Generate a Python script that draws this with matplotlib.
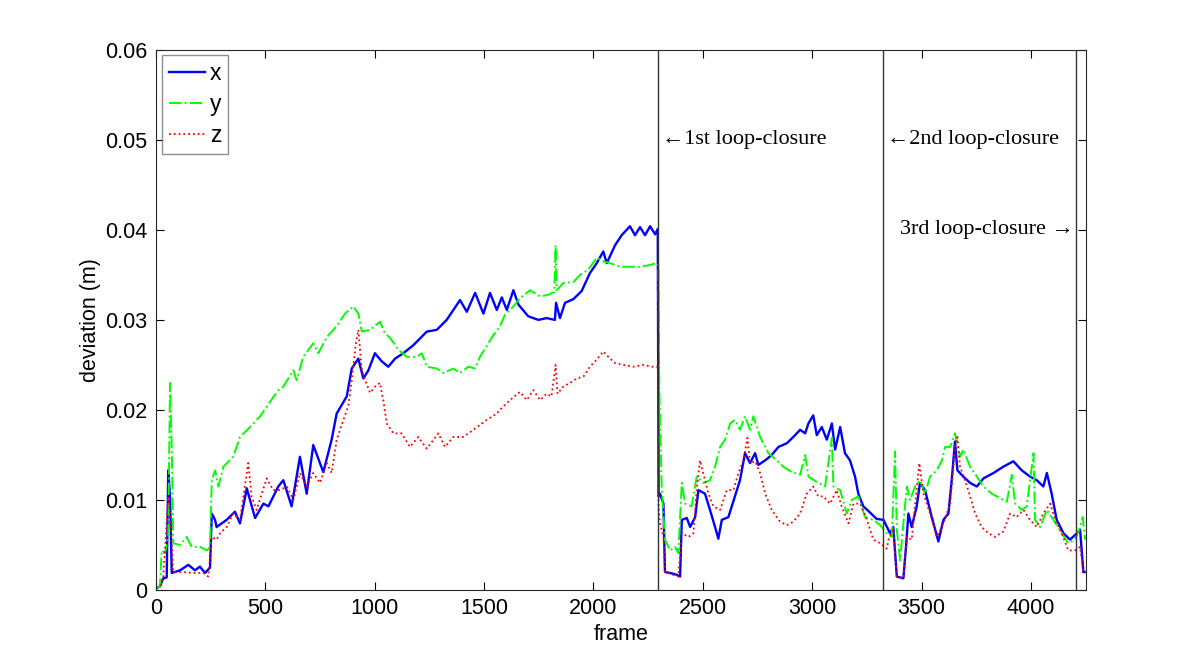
import matplotlib
matplotlib.use("Agg")
import matplotlib.pyplot as plt

# deviation per frame (frame, deviation in m)
x_points = [
    (0, .0002), (18, .0004), (33, .0013), (49, .0014), (56, .0133), (64, .0104), (72, .0019),
    (110, .0022), (148, .0028), (178, .0022), (201, .0026), (224, .0019), (247, .0025),
    (255, .0085), (270, .0078), (277, .0070), (323, .0078), (361, .0087), (384, .0074),
    (415, .0113), (453, .0080), (491, .0096), (514, .0093), (559, .0115), (582, .0122),
    (620, .0093), (658, .0148), (689, .0107), (719, .0161), (765, .0131), (803, .0167),
    (826, .0196), (872, .0215), (895, .0246), (925, .0257), (948, .0235), (971, .0244),
    (1001, .0263), (1032, .0254), (1062, .0248), (1093, .0257), (1131, .0263), (1177, .0272),
    (1238, .0287), (1284, .0289), (1329, .0300), (1390, .0322), (1421, .0309), (1459, .0330),
    (1497, .0307), (1527, .0330), (1558, .0311), (1581, .0325), (1604, .0311), (1634, .0333),
    (1657, .0317), (1702, .0304), (1748, .0300), (1786, .0302), (1824, .0300), (1829, .0319),
    (1847, .0302), (1870, .0319), (1908, .0323), (1946, .0332), (1984, .0352), (2015, .0363),
    (2045, .0376), (2061, .0363), (2099, .0383), (2129, .0394), (2167, .0404), (2190, .0394),
    (2213, .0403), (2236, .0394), (2259, .0404), (2282, .0395), (2294, .0401), (2298, .0104),
    (2304, .0107), (2320, .0096), (2327, .0020), (2350, .0019), (2381, .0017), (2396, .0015),
    (2404, .0078), (2427, .0080), (2442, .0070), (2465, .0081), (2480, .0111), (2510, .0107),
    (2533, .0089), (2556, .0070), (2571, .0057), (2587, .0078), (2617, .0081), (2647, .0104),
    (2670, .0122), (2693, .0152), (2716, .0141), (2739, .0152), (2754, .0139), (2785, .0144),
    (2815, .0150), (2846, .0159), (2884, .0163), (2914, .0170), (2945, .0178), (2968, .0174),
    (2983, .0185), (3005, .0194), (3021, .0172), (3044, .0181), (3067, .0167), (3090, .0185),
    (3105, .0156), (3128, .0181), (3150, .0152), (3173, .0144), (3196, .0126), (3211, .0107),
    (3234, .0093), (3265, .0086), (3295, .0079), (3326, .0078), (3356, .0063), (3371, .0070),
    (3387, .0015), (3417, .0013), (3429, .0048), (3440, .0085), (3455, .0070), (3478, .0093),
    (3493, .0119), (3516, .0111), (3547, .0081), (3577, .0054), (3600, .0078), (3623, .0085),
    (3638, .0122), (3653, .0165), (3664, .0133), (3691, .0126), (3722, .0119), (3753, .0115),
    (3783, .0124), (3829, .0130), (3874, .0137), (3920, .0143), (3958, .0133), (3996, .0126),
    (4027, .0122), (4057, .0115), (4073, .0130), (4095, .0107), (4118, .0078), (4149, .0063),
    (4179, .0056), (4210, .0063), (4225, .0067), (4240, .0020), (4251, .0020),
]

y_points = [
    (0, .0002), (18, .0004), (26, .0044), (41, .0041), (56, .0059), (64, .0230), (72, .0159),
    (79, .0052), (110, .0050), (140, .0059), (163, .0048), (201, .0048), (232, .0044),
    (247, .0048), (255, .0122), (270, .0133), (285, .0115), (308, .0137), (353, .0148),
    (384, .0170), (430, .0181), (476, .0193), (521, .0209), (559, .0222), (582, .0226),
    (628, .0244), (643, .0233), (673, .0259), (719, .0274), (742, .0263), (781, .0281),
    (826, .0293), (864, .0307), (902, .0315), (925, .0307), (941, .0287), (979, .0289),
    (1024, .0298), (1047, .0285), (1070, .0280), (1108, .0267), (1146, .0259), (1192, .0259),
    (1215, .0263), (1238, .0248), (1284, .0246), (1314, .0241), (1359, .0246), (1390, .0241),
    (1428, .0248), (1459, .0246), (1481, .0259), (1520, .0274), (1542, .0283), (1573, .0293),
    (1596, .0306), (1634, .0315), (1664, .0324), (1710, .0333), (1756, .0326), (1794, .0328),
    (1821, .0331), (1827, .0383), (1832, .0333), (1862, .0341), (1908, .0342), (1939, .0350),
    (1977, .0356), (2015, .0369), (2045, .0365), (2076, .0363), (2122, .0359), (2167, .0359),
    (2213, .0359), (2259, .0361), (2289, .0363), (2297, .0360), (2301, .0226), (2312, .0115),
    (2327, .0056), (2350, .0044), (2373, .0048), (2388, .0041), (2404, .0119), (2419, .0096),
    (2449, .0093), (2472, .0126), (2503, .0119), (2533, .0122), (2556, .0137), (2579, .0159),
    (2602, .0167), (2625, .0185), (2647, .0189), (2670, .0178), (2693, .0193), (2716, .0178),
    (2731, .0193), (2762, .0170), (2800, .0152), (2838, .0144), (2868, .0137), (2907, .0131),
    (2945, .0128), (2968, .0150), (2983, .0126), (3021, .0120), (3059, .0115), (3090, .0169),
    (3097, .0115), (3128, .0111), (3158, .0085), (3181, .0100), (3211, .0104), (3242, .0081),
    (3280, .0078), (3311, .0072), (3341, .0063), (3364, .0059), (3379, .0154), (3387, .0067),
    (3402, .0033), (3417, .0074), (3433, .0115), (3448, .0100), (3470, .0115), (3493, .0122),
    (3516, .0107), (3539, .0126), (3570, .0133), (3593, .0144), (3608, .0159), (3631, .0159),
    (3653, .0174), (3676, .0148), (3691, .0156), (3722, .0137), (3753, .0126), (3783, .0115),
    (3821, .0107), (3859, .0102), (3890, .0098), (3913, .0128), (3928, .0096), (3958, .0089),
    (3981, .0093), (4012, .0152), (4019, .0078), (4042, .0070), (4073, .0089), (4103, .0078),
    (4141, .0063), (4171, .0052), (4202, .0056), (4225, .0070), (4237, .0081), (4248, .0056),
]

z_points = [
    (0, .0002), (18, .0004), (33, .0013), (56, .0104), (64, .0085), (72, .0052), (79, .0020),
    (125, .0020), (171, .0019), (216, .0019), (239, .0015), (255, .0059), (277, .0056),
    (293, .0063), (323, .0070), (353, .0085), (384, .0078), (422, .0141), (437, .0104),
    (460, .0089), (506, .0124), (536, .0111), (567, .0111), (598, .0115), (628, .0100),
    (658, .0130), (689, .0115), (719, .0130), (750, .0119), (781, .0141), (803, .0130),
    (826, .0167), (857, .0189), (879, .0204), (895, .0233), (914, .0274), (925, .0289),
    (941, .0244), (956, .0233), (979, .0219), (1001, .0226), (1024, .0230), (1039, .0211),
    (1055, .0185), (1085, .0174), (1123, .0174), (1161, .0159), (1199, .0170), (1238, .0157),
    (1291, .0174), (1321, .0159), (1359, .0170), (1405, .0170), (1451, .0178), (1512, .0189),
    (1558, .0196), (1588, .0204), (1619, .0211), (1664, .0220), (1695, .0211), (1725, .0222),
    (1756, .0211), (1786, .0218), (1808, .0215), (1827, .0250), (1836, .0218), (1862, .0226),
    (1893, .0230), (1924, .0235), (1954, .0237), (1984, .0248), (2015, .0256), (2045, .0265),
    (2068, .0259), (2099, .0252), (2137, .0250), (2183, .0248), (2228, .0250), (2267, .0248),
    (2294, .0248), (2298, .0090), (2304, .0074), (2320, .0059), (2327, .0020), (2388, .0015),
    (2404, .0063), (2435, .0059), (2457, .0063), (2472, .0111), (2487, .0144), (2510, .0122),
    (2526, .0107), (2548, .0093), (2579, .0089), (2610, .0111), (2640, .0111), (2663, .0130),
    (2686, .0144), (2704, .0169), (2716, .0141), (2739, .0143), (2762, .0130), (2785, .0107),
    (2815, .0089), (2853, .0076), (2884, .0072), (2914, .0076), (2945, .0085), (2975, .0107),
    (3005, .0115), (3028, .0104), (3051, .0104), (3082, .0096), (3112, .0111), (3135, .0093),
    (3166, .0074), (3189, .0096), (3220, .0096), (3250, .0078), (3280, .0056), (3311, .0052),
    (3341, .0046), (3349, .0056), (3371, .0067), (3387, .0015), (3417, .0013), (3433, .0059),
    (3455, .0056), (3470, .0093), (3490, .0141), (3509, .0107), (3539, .0085), (3570, .0059),
    (3600, .0074), (3631, .0096), (3653, .0159), (3664, .0170), (3676, .0137), (3699, .0122),
    (3722, .0104), (3745, .0085), (3775, .0070), (3806, .0063), (3836, .0059), (3874, .0065),
    (3905, .0085), (3935, .0081), (3966, .0089), (3996, .0078), (4027, .0070), (4057, .0085),
    (4088, .0096), (4111, .0078), (4141, .0063), (4171, .0044), (4202, .0044), (4225, .0048),
    (4240, .0020), (4251, .0020),
]

loop_frames = [2297, 3326, 4207]
loop_labels = ["\u21901st loop-closure", "\u21902nd loop-closure", "3rd loop-closure \u2192"]
loop_label_y = [0.05, 0.05, 0.04]

x_ticks = [0, 500, 1000, 1500, 2000, 2500, 3000, 3500, 4000]
y_ticks = [0, 0.01, 0.02, 0.03, 0.04, 0.05, 0.06]
y_tick_labels = ["0", "0.01", "0.02", "0.03", "0.04", "0.05", "0.06"]

plt.rcParams["font.family"] = ["Liberation Sans", "DejaVu Sans"]

fig = plt.figure(figsize=(12, 6.63), dpi=100)
ax = fig.add_axes([0.13, 0.11, 0.775, 0.815])

for points, color, style, lw, label in [
    (x_points, (0, 0, 1), "-", 1.7, "x"),
    (y_points, (0, 1, 0), "-.", 1.4, "y"),
    (z_points, (1, 0, 0), ":", 1.3, "z"),
]:
    frames, dev = zip(*points)
    ax.plot(frames, dev, style, color=color, lw=lw, label=label)

for frame in loop_frames:
    ax.axvline(frame, color="0.2", lw=1)

serif = ["Liberation Serif", "DejaVu Serif"]
ax.text(loop_frames[0] + 15, loop_label_y[0], loop_labels[0], family=serif,
        fontsize=16, ha="left", va="center")
ax.text(loop_frames[1] + 15, loop_label_y[1], loop_labels[1], family=serif,
        fontsize=16, ha="left", va="center")
ax.text(loop_frames[2] - 10, loop_label_y[2], loop_labels[2], family=serif,
        fontsize=16, ha="right", va="center")

ax.set_xlim(0, 4252)
ax.set_ylim(0, 0.06)
ax.set_xticks(x_ticks)
ax.set_yticks(y_ticks)
ax.set_yticklabels(y_tick_labels)
ax.tick_params(direction="in", length=6, width=0.8, top=True, right=True,
               labelsize=15.5, colors="black", pad=6)
for spine in ax.spines.values():
    spine.set_color("0.15")
    spine.set_linewidth(0.8)

ax.set_xlabel("frame", fontsize=15.5, labelpad=3)
ax.set_ylabel("deviation (m)", fontsize=15.5, labelpad=3)

leg = ax.legend(loc="upper left", fontsize=16.5, frameon=True, fancybox=False,
                borderaxespad=0.25, borderpad=0.3, labelspacing=0.35,
                handlelength=1.6, handletextpad=0.2)
leg.get_frame().set_edgecolor("0.45")
leg.get_frame().set_linewidth(1)

fig.savefig("out.png", dpi=100)
